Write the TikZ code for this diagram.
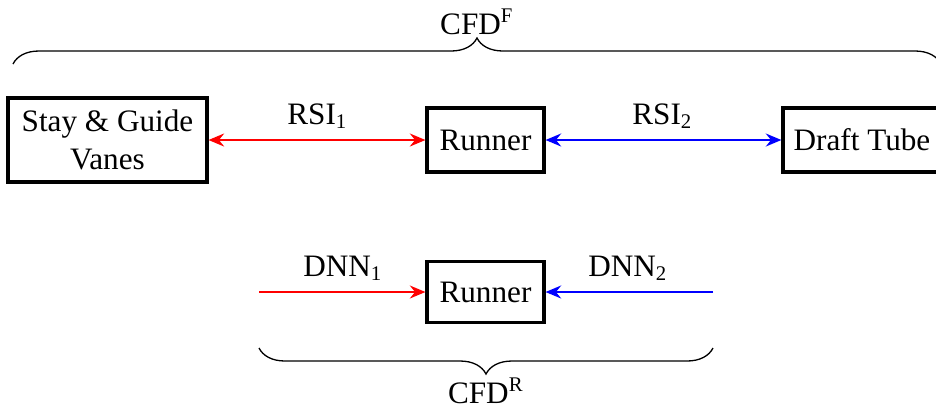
\documentclass[tikz,border=0pt]{standalone}
\usepackage{fontspec}
\setmainfont{Liberation Serif}
\usetikzlibrary{arrows.meta,decorations.pathreplacing}
\begin{document}
\begin{tikzpicture}[x=0.3846pt,y=-0.3846pt,
  font=\fontsize{12}{14.4}\selectfont,
  blockbox/.style={draw,line width=1.2pt,inner sep=0pt,align=center},
  conn/.style={line width=0.8pt},
  tip/.tip={Stealth[length=6pt,width=5pt,inset=2pt]},
  lab/.style={anchor=base,inner sep=0pt},
  bracedeco/.style={decorate,decoration={brace,amplitude=10pt},line width=0.5pt}]
\useasboundingbox (0,0) rectangle (936,410);
% top row
\node[blockbox,minimum width=76.5pt,minimum height=32.3pt] (stay) at (107.5,140) {Stay \& Guide\\Vanes};
\node[blockbox,minimum width=45pt,minimum height=24.6pt] (run1) at (485.5,140) {Runner};
\node[blockbox,minimum width=60.8pt,minimum height=24.6pt] (draft) at (862,140) {Draft Tube};
\draw[conn,red,{tip}-{tip}] (stay) -- (run1);
\draw[conn,blue,{tip}-{tip}] (run1) -- (draft);
\node[lab] (rsi1) at (317.5,124) {RSI\textsubscript{1}};
\node[lab] (rsi2) at (662.5,124) {RSI\textsubscript{2}};
% top brace
\coordinate (tbl) at (13,64);
\coordinate (tbr) at (941,64);
\draw[bracedeco] (tbl) -- (tbr);
\node[lab] (cfdf) at (477,34) {CFD\textsuperscript{F}};
% bottom row
\node[blockbox,minimum width=45pt,minimum height=23.5pt] (run2) at (485.5,292) {Runner};
\coordinate (d1) at (259,292);
\coordinate (d2) at (713,292);
\draw[conn,red,-{tip}] (d1) -- (run2);
\draw[conn,blue,-{tip}] (d2) -- (run2);
\node[lab] (dnn1) at (343,276) {DNN\textsubscript{1}};
\node[lab] (dnn2) at (628,276) {DNN\textsubscript{2}};
% bottom brace
\coordinate (bbl) at (259,348);
\coordinate (bbr) at (713,348);
\draw[bracedeco] (bbr) -- (bbl);
\node[lab] (cfdr) at (486,403) {CFD\textsuperscript{R}};
\end{tikzpicture}
\end{document}
